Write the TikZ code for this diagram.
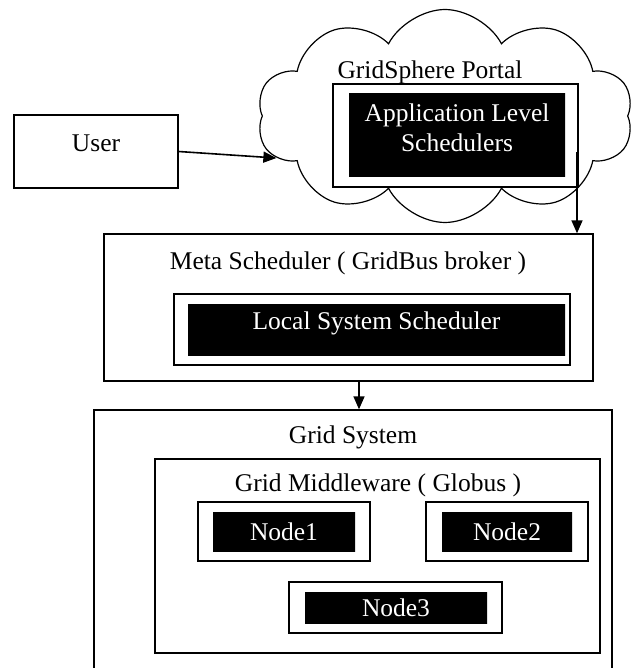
\documentclass[tikz,border=0pt]{standalone}
\usepackage{fontspec}
\setmainfont{Liberation Serif}
\usepackage{xcolor}
\usepackage{tikz}
\usetikzlibrary{arrows.meta,shapes.symbols}

\pgfdeclarehorizontalshading{blackbar}{100bp}{color(0bp)=(gray!40); color(1.5bp)=(black); color(98.5bp)=(black); color(100bp)=(gray!40)}

\begin{document}
\begin{tikzpicture}[x=1pt, y=-1pt, inner sep=0pt,
  every node/.style={font=\fontsize{25.5}{30}\selectfont},
  whitebox/.style={draw, fill=white, line width=1.4pt},
  blackbox/.style={shade, shading=blackbar, text=white},
  arrow/.style={-{Triangle[length=13pt,width=11pt]}, line width=1.6pt}]

\useasboundingbox (0,0) rectangle (634,668);
\clip (0,0) rectangle (634,668);

% portal cloud
\node (cloud) at (445,116) [cloud, draw, cloud puffs=10, cloud puff arc=125, cloud ignores aspect, minimum width=376pt, minimum height=213pt, line width=1.2pt] {};
\node (portaltitle) at (430,72) {GridSphere Portal};
\node (portal) at (455.5,135.5) [whitebox, minimum width=245pt, minimum height=103pt] {};
\node (appsched) at (457,135.5) [blackbox, minimum width=216pt, minimum height=83pt, align=center, text depth=15pt] {Application Level\\Schedulers};

% user
\node (user) at (96,151.5) [draw, line width=1.4pt, minimum width=164pt, minimum height=73pt, text depth=16pt] {User};

% meta scheduler
\node (meta) at (348.5,307.5) [whitebox, minimum width=489pt, minimum height=147pt] {};
\node (metatitle) at (348,263) {Meta Scheduler ( GridBus broker )};
\node (lssbox) at (372,329.5) [whitebox, minimum width=396pt, minimum height=71pt] {};
\node (lss) at (376.5,329.5) [blackbox, minimum width=377pt, minimum height=51pt, text depth=18.5pt] {Local System Scheduler};

% grid system
\node (gridsys) at (353,560) [whitebox, minimum width=518pt, minimum height=300pt] {};
\node (gridtitle) at (353,437) {Grid System};
\node (middleware) at (377.5,556) [whitebox, minimum width=445pt, minimum height=194pt] {};
\node (mwtitle) at (378,485) {Grid Middleware ( Globus )};

\node (box1) at (284,531.5) [whitebox, minimum width=172pt, minimum height=59pt] {};
\node (node1) at (284,531.5) [blackbox, minimum width=142pt, minimum height=39pt] {Node1};

\node (box2) at (507,531.5) [whitebox, minimum width=162pt, minimum height=59pt] {};
\node (node2) at (507,531.5) [blackbox, minimum width=130pt, minimum height=39pt] {Node2};

\node (box3) at (395.5,607.5) [whitebox, minimum width=213pt, minimum height=51pt] {};
\node (node3) at (396,607.5) [blackbox, minimum width=182pt, minimum height=31pt] {Node3};

% arrows
\coordinate (cloudout) at (577,152);
\draw[arrow] (user.east) -- (cloud.194);
\draw[arrow] (cloudout) -- (cloudout |- meta.north);
\draw[arrow] ([xshift=10.5pt]meta.south) -- ([xshift=10.5pt]meta.south |- gridsys.north);

\end{tikzpicture}
\end{document}
